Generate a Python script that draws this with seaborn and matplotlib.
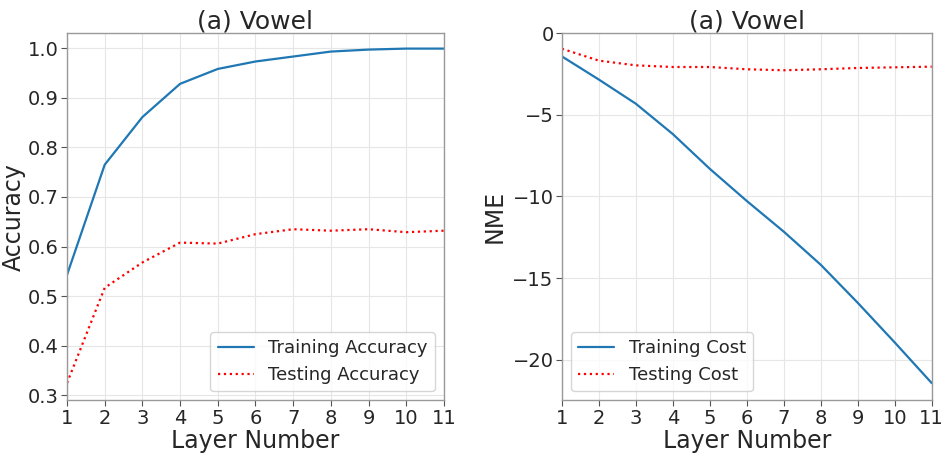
import matplotlib
matplotlib.use("Agg")
import matplotlib.pyplot as plt
import seaborn as sns
import pandas as pd

layers = list(range(1, 12))
train_acc = [0.543, 0.765, 0.861, 0.928, 0.958, 0.973, 0.983, 0.993, 0.997, 0.999, 0.999]
test_acc = [0.325, 0.517, 0.568, 0.608, 0.606, 0.625, 0.635, 0.632, 0.635, 0.629, 0.632]
train_cost = [-1.42, -2.84, -4.32, -6.18, -8.31, -10.28, -12.16, -14.19, -16.52, -18.95, -21.44]
test_cost = [-0.95, -1.68, -1.97, -2.07, -2.07, -2.21, -2.27, -2.21, -2.13, -2.09, -2.05]
nme_ticks = [0, -5, -10, -15, -20]

sns.set_style("whitegrid", {
    "axes.edgecolor": "#999999",
    "grid.color": "#e6e6e6",
    "xtick.bottom": True,
    "ytick.left": True,
})
plt.rcParams["font.family"] = ["DejaVu Sans"]

fig, axes = plt.subplots(1, 2, figsize=(9.44, 4.55), dpi=100,
                         gridspec_kw={"width_ratios": [377, 370]})
fig.subplots_adjust(left=0.071, right=0.987, bottom=0.12, top=0.927, wspace=0.316)

acc = pd.DataFrame({"layer": layers, "train": train_acc, "test": test_acc})
cost = pd.DataFrame({"layer": layers, "train": train_cost, "test": test_cost})

ax = axes[0]
sns.lineplot(data=acc, x="layer", y="train", ax=ax, color="#1f77b4", lw=1.6,
             label="Training Accuracy")
sns.lineplot(data=acc, x="layer", y="test", ax=ax, color="red", lw=1.6,
             linestyle=":", label="Testing Accuracy")
ax.set_title("(a) Vowel", fontsize=18, pad=3)
ax.set_ylabel("Accuracy", fontsize=17, labelpad=1)
ax.set_xlabel("Layer Number", fontsize=17, labelpad=1)
ax.set_xlim(1, 11)
ax.set_ylim(0.29, 1.03)
ax.set_xticks(layers)
ax.legend(loc="lower right", fontsize=13)

ax = axes[1]
sns.lineplot(data=cost, x="layer", y="train", ax=ax, color="#1f77b4", lw=1.6,
             label="Training Cost")
sns.lineplot(data=cost, x="layer", y="test", ax=ax, color="red", lw=1.6,
             linestyle=":", label="Testing Cost")
ax.set_title("(a) Vowel", fontsize=18, pad=3)
ax.set_ylabel("NME", fontsize=17, labelpad=4)
ax.set_xlabel("Layer Number", fontsize=17, labelpad=1)
ax.set_xlim(1, 11)
ax.set_ylim(-22.5, 0)
ax.set_xticks(layers)
ax.set_yticks(nme_ticks)
ax.legend(loc="lower left", fontsize=13)

for a in axes:
    a.tick_params(labelsize=14, length=4, width=0.8, color="#555555", pad=2)
    for s in a.spines.values():
        s.set_linewidth(1.0)

fig.savefig("out.png", dpi=100)
